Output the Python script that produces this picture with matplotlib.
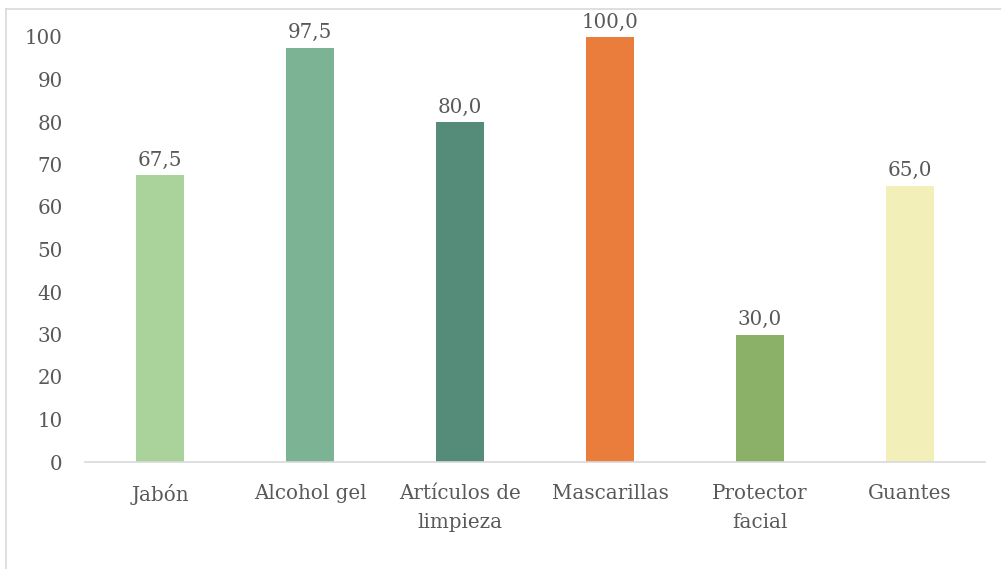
import matplotlib.pyplot as plt
from matplotlib.lines import Line2D

# Data
categories = ['Jabón', 'Alcohol gel', 'Artículos de\nlimpieza', 'Mascarillas', 'Protector\nfacial', 'Guantes']
values = [67.5, 97.5, 80.0, 100.0, 30.0, 65.0]
colors = ['#A9D39B', '#7BB394', '#558C79', '#EB7D3C', '#8BB068', '#F2F0B8']

plt.rcParams['font.family'] = ['DejaVu Serif']
text_color = '#595959'
fs = 14.3

fig = plt.figure(figsize=(10.01, 5.69), dpi=100)
ax = fig.add_axes([85 / 1001, 1 - 462 / 569, 900 / 1001, 425 / 569])

x = range(len(categories))
bars = ax.bar(x, values, width=0.32, color=colors)

for b, v in zip(bars, values):
    ax.annotate(f'{v:.1f}'.replace('.', ','), (b.get_x() + b.get_width() / 2, v),
                xytext=(0, 4), textcoords='offset points', ha='center', va='bottom',
                fontsize=fs, color=text_color, annotation_clip=False)

ax.set_xlim(-0.5, len(categories) - 0.5)
ax.set_ylim(0, 100)
ax.set_yticks(range(0, 101, 10))
ax.set_xticks(list(x))
ax.set_xticklabels(categories, fontsize=fs, color=text_color, linespacing=1.65)
ax.tick_params(axis='y', length=0, pad=16, labelsize=fs, labelcolor=text_color)
ax.tick_params(axis='x', length=0, pad=16)

for s in ['top', 'right', 'left']:
    ax.spines[s].set_visible(False)
ax.spines['bottom'].set_color('#D9D9D9')
ax.spines['bottom'].set_linewidth(1.2)

# chart frame (cut off at right and bottom)
fig.add_artist(Line2D([6 / 1001, 6 / 1001], [0, 1 - 9 / 569], transform=fig.transFigure,
                      color='#D9D9D9', lw=1.2))
fig.add_artist(Line2D([6 / 1001, 1], [1 - 9 / 569, 1 - 9 / 569], transform=fig.transFigure,
                      color='#D9D9D9', lw=1.2))

fig.savefig('out.png', dpi=100)
